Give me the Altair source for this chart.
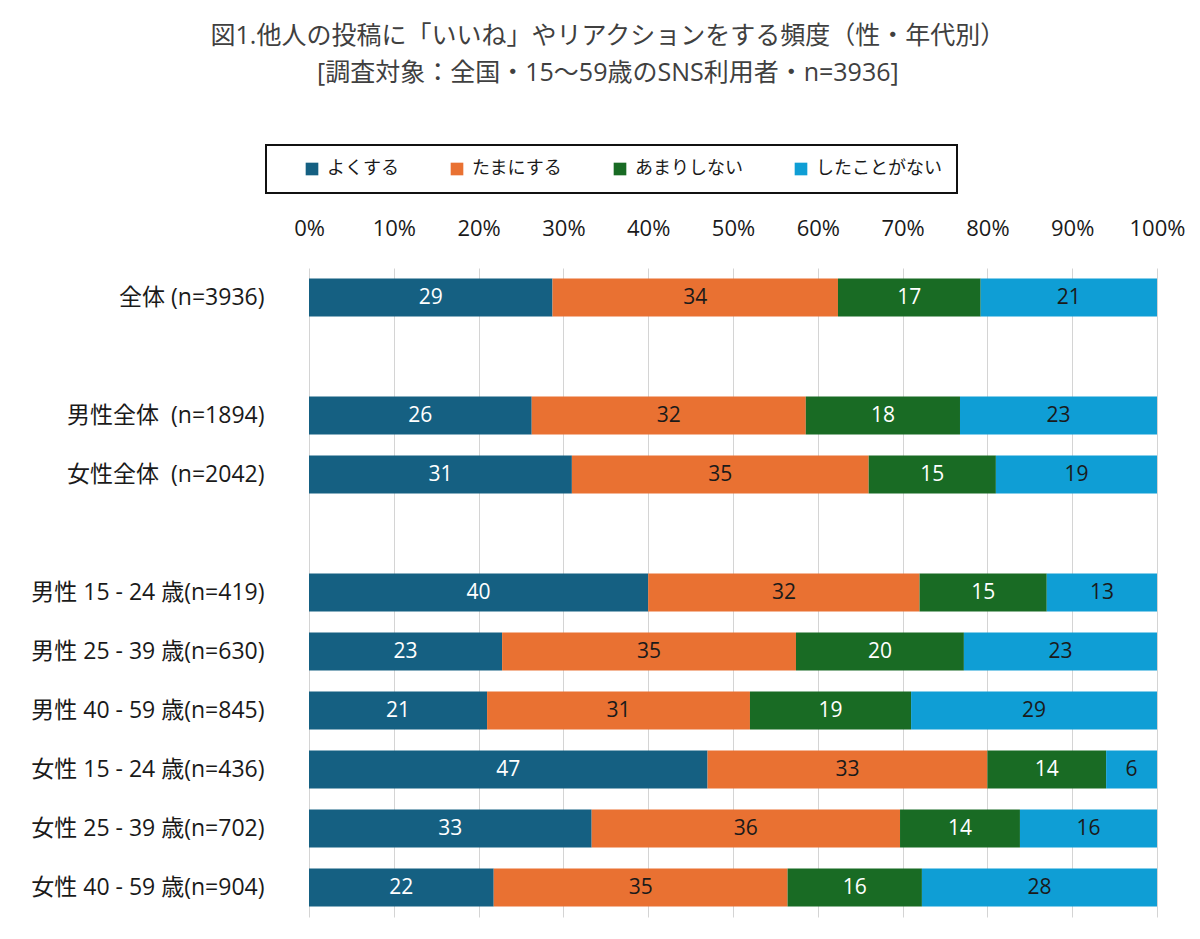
import altair as alt
import pandas as pd

FONT = "Open Sans, Noto Sans CJK JP"

categories = [
    "全体 (n=3936)",
    " ",
    "男性全体\u00a0\u00a0(n=1894)",
    "女性全体\u00a0\u00a0(n=2042)",
    "  ",
    "男性 15 - 24 歳(n=419)",
    "男性 25 - 39 歳(n=630)",
    "男性 40 - 59 歳(n=845)",
    "女性 15 - 24 歳(n=436)",
    "女性 25 - 39 歳(n=702)",
    "女性 40 - 59 歳(n=904)",
]
data_categories = [c for c in categories if c.strip()]

series = ["よくする", "たまにする", "あまりしない", "したことがない"]
series_colors = ["#156082", "#E97132", "#196B24", "#0F9ED5"]
text_colors = ["#ffffff", "#1a1a1a", "#ffffff", "#1a1a1a"]

yoku = [29, 26, 31, 40, 23, 21, 47, 33, 22]
tamani = [34, 32, 35, 32, 35, 31, 33, 36, 35]
amari = [17, 18, 15, 15, 20, 19, 14, 14, 16]
nai = [21, 23, 19, 13, 23, 29, 6, 16, 28]

x_ticks = [0, 0.1, 0.2, 0.3, 0.4, 0.5, 0.6, 0.7, 0.8, 0.9, 1.0]

rows = []
for s_i, (s, vals) in enumerate(zip(series, [yoku, tamani, amari, nai])):
    for c, v in zip(data_categories, vals):
        rows.append({"cat": c, "series": s, "order": s_i, "value": v,
                     "tc": text_colors[s_i]})
df = pd.DataFrame(rows)

base = alt.Chart(df).transform_stack(
    stack="value", groupby=["cat"], as_=["v0", "v1"],
    offset="normalize", sort=[alt.SortField("order", order="ascending")]
).transform_calculate(mid="(datum.v0 + datum.v1) / 2")

y_enc = alt.Y(
    "cat:N",
    sort=categories,
    scale=alt.Scale(domain=categories, paddingInner=0.36, paddingOuter=0.18),
    axis=alt.Axis(title=None, labelFontSize=23, labelFont=FONT, labelColor="#1a1a1a",
                  labelPadding=45, ticks=False, domain=False, grid=False,
                  labelLimit=400),
)

bars = base.mark_bar().encode(
    x=alt.X("v0:Q", scale=alt.Scale(domain=[0, 1], nice=False),
            axis=alt.Axis(orient="top", format=".0%", values=x_ticks, title=None,
                          labelFontSize=22, labelFont=FONT, labelColor="#1a1a1a",
                          labelPadding=28, labelFlush=False, labelOverlap=False,
                          ticks=False, domain=False,
                          grid=True, gridColor="#d4d4d4", gridWidth=1)),
    x2="v1:Q",
    y=y_enc,
    color=alt.Color("series:N", sort=series,
                    scale=alt.Scale(domain=series, range=series_colors),
                    legend=alt.Legend(
                        title=None, orient="none", direction="horizontal",
                        legendX=-43, legendY=-123,
                        symbolType="square", symbolSize=160, symbolStrokeWidth=0,
                        labelFontSize=18, labelFont=FONT, labelColor="#1a1a1a",
                        labelOffset=6, symbolOffset=22, columnPadding=27,
                        padding=15, strokeColor="#111111", fillColor="#ffffff")),
    order=alt.Order("order:Q"),
)

labels = base.mark_text(fontSize=21, font=FONT).encode(
    x=alt.X("mid:Q"),
    y=alt.Y("cat:N", sort=categories),
    text=alt.Text("value:Q"),
    color=alt.Color("tc:N", scale=None),
)

chart = alt.layer(bars, labels).properties(
    width=848,
    height=649,
    title=alt.TitleParams(
        text=["図1.他人の投稿に「いいね」やリアクションをする頻度（性・年代別）",
              "[調査対象：全国・15～59歳のSNS利用者・n=3936]"],
        anchor="middle", frame="bounds", fontSize=25, font=FONT,
        fontWeight="normal", color="#404040", lineHeight=37, offset=58,
    ),
    autosize=alt.AutoSizeParams(type="none"),
    padding={"left": 309, "top": 268, "right": 43, "bottom": 22},
).configure_view(stroke=None).configure_legend(strokeWidth=2)

chart.save("out.html", embed_options={"renderer": "svg", "actions": False})
